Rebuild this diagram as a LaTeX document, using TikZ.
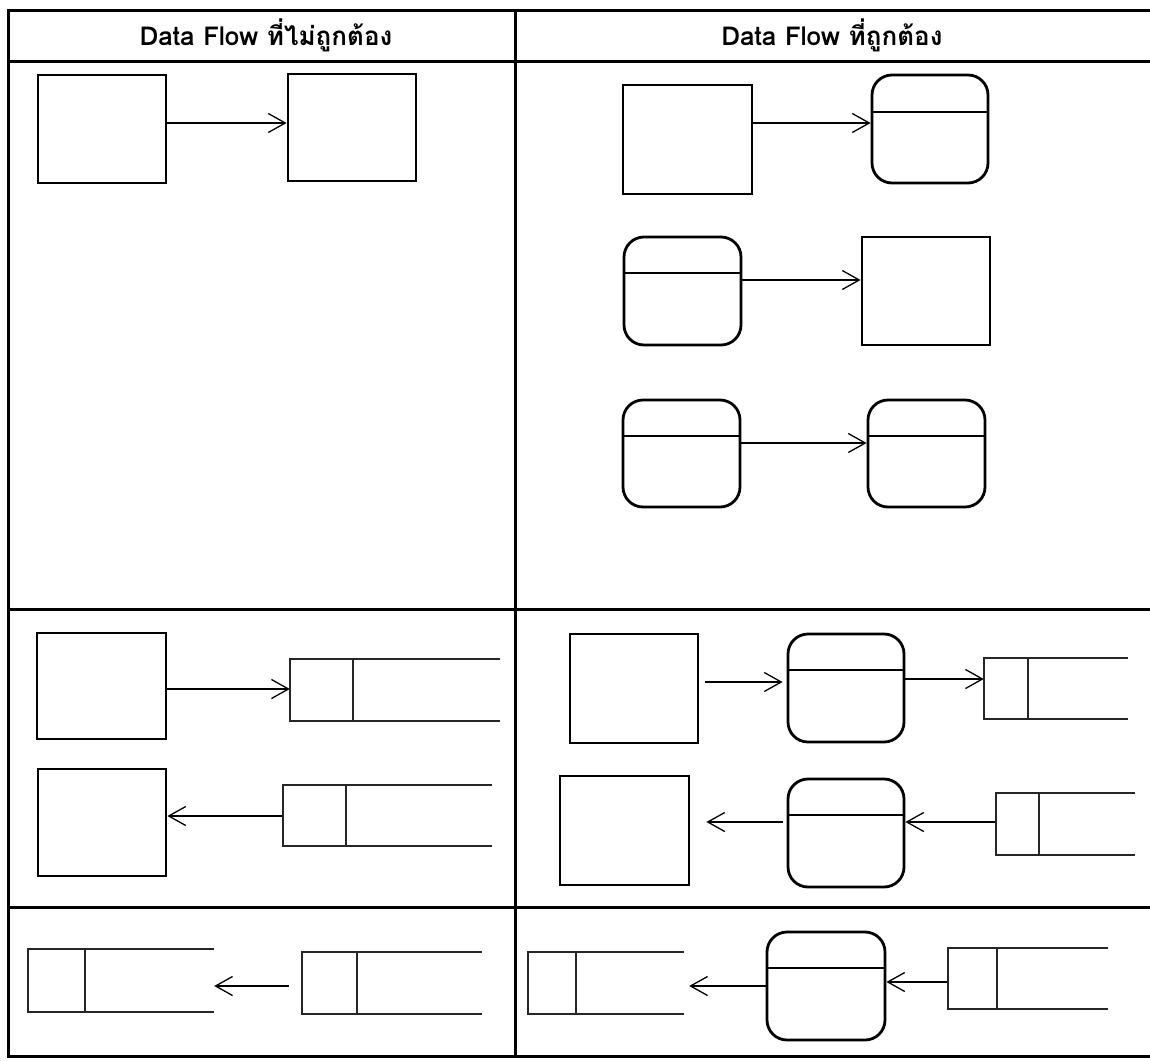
\documentclass[tikz,border=0pt]{standalone}
\usepackage{fontspec}
\newfontfamily\thaifont[Script=Thai]{Loma}
\usetikzlibrary{arrows.meta}

\tikzset{
  grid line/.style={line width=3pt, line cap=rect},
  entity/.style={draw, line width=2.8pt, rectangle, inner sep=0pt},
  process/.style={draw, line width=2.8pt, rectangle, rounded corners=20pt, inner sep=0pt,
    path picture={\draw[line width=1.4pt]
      ([yshift=-#1]path picture bounding box.north west) --
      ([yshift=-#1]path picture bounding box.north east);}},
  process/.default=36pt,
  store/.style={rectangle, inner sep=0pt},
  store line/.style={line width=1.6pt, black!85},
  flow/.style={line width=1.3pt, -{Straight Barb[length=17pt,width=19pt,line width=1.3pt]}},
  head/.style={font=\thaifont\bfseries\fontsize{26}{30}\selectfont, inner sep=0pt}
}

\begin{document}
\begin{tikzpicture}[x=1pt, y=-1pt]
\useasboundingbox (0,0) rectangle (1150,1060);

% table frame
\draw[grid line] (8,10) -- (1150,10);
\draw[grid line] (8,61) -- (1150,61);
\draw[grid line] (8,609) -- (1150,609);
\draw[grid line] (8,907) -- (1150,907);
\draw[grid line] (8,1056) -- (1150,1056);
\draw[grid line] (8,10) -- (8,1056);
\draw[grid line] (515,10) -- (515,1056);

% headers
\node[head] (hL) at (266,35) {Data Flow ที่ไม่ถูกต้อง};
\node[head] (hR) at (832,35) {Data Flow ที่ถูกต้อง};

% ---------- row 1, left ----------
\node[entity, minimum width=128pt, minimum height=108pt] (a1) at (102,129) {};
\node[entity, minimum width=128pt, minimum height=107pt] (a2) at (352,127.5) {};
\draw[flow] (a1.east |- 0,123) -- (a2.west |- 0,123);

% ---------- row 1, right ----------
\node[entity, minimum width=129pt, minimum height=109pt] (b1) at (687.5,139.5) {};
\node[process=37pt, minimum width=116pt, minimum height=108pt] (b2) at (930,129) {};
\draw[flow] (b1.east |- 0,123) -- (b2.west |- 0,123);

\node[process, minimum width=117pt, minimum height=108pt] (b3) at (682.5,291) {};
\node[entity, minimum width=128pt, minimum height=108pt] (b4) at (926,291) {};
\draw[flow] (b3.east |- 0,280) -- (b4.west |- 0,280);

\node[process, minimum width=117pt, minimum height=107pt] (b5) at (681.5,453.5) {};
\node[process, minimum width=117pt, minimum height=107pt] (b6) at (926.5,453.5) {};
\draw[flow] (b5.east |- 0,443) -- (b6.west |- 0,443);

% ---------- row 2, left ----------
\node[entity, minimum width=129pt, minimum height=106pt] (c1) at (101.5,686) {};
\node[store, minimum width=210pt, minimum height=62pt] (c2) at (395,690) {};
\draw[flow] (c1.east |- 0,689) -- (c2.west |- 0,689);

\node[entity, minimum width=128pt, minimum height=107pt] (c3) at (102,822.5) {};
\node[store, minimum width=209pt, minimum height=61pt] (c4) at (387.5,815.5) {};
\draw[flow] (c4.west |- 0,816) -- (c3.east |- 0,816);

% ---------- row 2, right ----------
\node[entity, minimum width=128pt, minimum height=109pt] (d1) at (634,688.5) {};
\node[process, minimum width=116pt, minimum height=108pt] (d2) at (846,688) {};
\node[store, minimum width=144pt, minimum height=61pt] (d3) at (1056,688.5) {};
\draw[flow, shorten <=6pt, shorten >=4pt] (d1.east |- 0,682) -- (d2.west |- 0,682);
\draw[flow] (d2.east |- 0,679) -- (d3.west |- 0,679);

\node[entity, minimum width=129pt, minimum height=109pt] (d4) at (624.5,830.5) {};
\node[process, minimum width=116pt, minimum height=108pt] (d5) at (846,833) {};
\node[store, minimum width=139pt, minimum height=62pt] (d6) at (1065.5,824) {};
\draw[flow] (d6.west |- 0,822) -- (d5.east |- 0,822);
\draw[flow, shorten <=4pt, shorten >=16pt] (d5.west |- 0,822) -- (d4.east |- 0,822);

% ---------- row 3, left ----------
\node[store, minimum width=186pt, minimum height=63pt] (e1) at (121,980.5) {};
\node[store, minimum width=180pt, minimum height=62pt] (e2) at (392,983) {};
\draw[flow, shorten <=13pt] (e2.west |- 0,986) -- (e1.east |- 0,986);

% ---------- row 3, right ----------
\node[store, minimum width=156pt, minimum height=62pt] (f1) at (606,983) {};
\node[process, minimum width=118pt, minimum height=108pt] (f2) at (826,986) {};
\node[store, minimum width=160pt, minimum height=61pt] (f3) at (1028,978.5) {};
\draw[flow, shorten >=5pt] (f2.west |- 0,986) -- (f1.east |- 0,986);
\draw[flow] (f3.west |- 0,982) -- (f2.east |- 0,982);

% open-ended data stores: three sides plus the id divider
\foreach \s/\d in {c2/63, c4/63, d3/44, d6/43, e1/57, e2/55, f1/48, f3/49}{
  \draw[store line] (\s.north east) -- (\s.north west) -- (\s.south west) -- (\s.south east)
    ([xshift=\d pt]\s.north west) -- ([xshift=\d pt]\s.south west);
}
\end{tikzpicture}
\end{document}
